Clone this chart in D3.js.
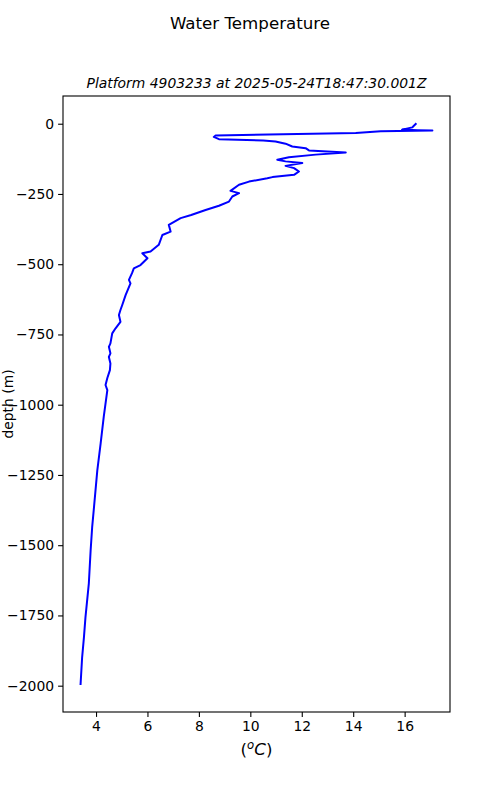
<!DOCTYPE html>
<html>
<head>
<meta charset="utf-8">
<script src="https://cdn.jsdelivr.net/npm/d3@7"></script>
<style>
  body { margin: 0; background: #fff; }
  text { font-family: "DejaVu Sans", sans-serif; fill: #000; }
</style>
</head>
<body>
<div id="chart"></div>
<script>
// profile: temperature (degC) and depth (m), in profile order
var temps = [16.43, 16.35, 16.3, 15.9, 16.5, 17.08, 15.07, 14.1, 8.65, 8.58, 8.78, 10.5,
  10.98, 11.37, 11.63, 12.15, 12.28, 13.71, 12.54, 11.5, 11.05, 11.37, 12.02, 11.37,
  11.7, 11.89, 11.7, 10.86, 10.66, 9.95, 9.56, 9.23, 9.56, 9.3, 9.17, 8.78, 8.26, 7.7,
  7.29, 6.83, 6.9, 6.58, 6.44, 6.12, 5.8, 6.0, 5.73, 5.47, 5.4, 5.28, 5.34, 5.15, 5.02,
  4.95, 4.89, 4.95, 4.76, 4.63, 4.56, 4.5, 4.56, 4.5, 4.56, 4.54, 4.44, 4.37, 4.44, 4.3,
  4.18, 4.05, 3.91, 3.85, 3.79, 3.72, 3.59, 3.53, 3.46, 3.4];
var depths = [-1, -8, -13, -21, -23, -24, -27, -33, -42, -47, -55, -60,
  -63, -71, -81, -87, -95, -102, -110, -119, -128, -134, -140, -150,
  -158, -170, -182, -190, -194, -206, -217, -239, -247, -259, -277, -292, -307, -325,
  -336, -360, -384, -396, -431, -455, -461, -479, -503, -515, -532, -556, -568, -610, -645,
  -663, -681, -705, -728, -746, -782, -794, -817, -830, -853, -877, -905, -930, -948, -1043,
  -1138, -1234, -1376, -1436, -1519, -1637, -1756, -1828, -1899, -1994];
var xTicks = [4, 6, 8, 10, 12, 14, 16];
var yTicks = [0, -250, -500, -750, -1000, -1250, -1500, -1750, -2000];

var data = temps.map(function(t, i) { return {temp: t, depth: depths[i]}; });

// set the dimensions and margins of the graph
var W = 500, H = 800;
var margin = {top: 96, right: 50, bottom: 88, left: 63},
    width = W - margin.left - margin.right,
    height = H - margin.top - margin.bottom;

// matplotlib-like 5% padding
function padded(ext) {
  var p = (ext[1] - ext[0]) * 0.05;
  return [ext[0] - p, ext[1] + p];
}

var x = d3.scaleLinear().domain(padded(d3.extent(temps))).range([0, width]);
var y = d3.scaleLinear().domain(padded(d3.extent(depths))).range([height, 0]);

var svg = d3.select("#chart").append("svg")
    .attr("width", W)
    .attr("height", H);

var g = svg.append("g")
    .attr("transform", "translate(" + margin.left + "," + margin.top + ")");

var line = d3.line()
    .x(function(d) { return x(d.temp); })
    .y(function(d) { return y(d.depth); });

g.append("path")
    .datum(data)
    .attr("fill", "none")
    .attr("stroke", "#0000ff")
    .attr("stroke-width", 2)
    .attr("stroke-linejoin", "round")
    .attr("stroke-linecap", "square")
    .attr("d", line);

var fmt = function(d) { return d3.format("d")(d).replace("-", "\u2212"); };

// x axis
var xAxis = g.append("g")
    .attr("transform", "translate(0," + height + ")")
    .call(d3.axisBottom(x).tickValues(xTicks).tickSize(4.9).tickPadding(4).tickFormat(fmt));

// y axis
var yAxis = g.append("g")
    .call(d3.axisLeft(y).tickValues(yTicks).tickSize(4.9).tickPadding(4).tickFormat(fmt));

[xAxis, yAxis].forEach(function(a) {
  a.select(".domain").remove();
  a.selectAll(".tick line").attr("stroke", "#000").attr("stroke-width", 1.1);
  a.selectAll(".tick text")
      .style("font-family", "'DejaVu Sans', sans-serif")
      .style("font-size", "13.9px")
      .attr("fill", "#000");
});

// frame
g.append("rect")
    .attr("width", width)
    .attr("height", height)
    .attr("fill", "none")
    .attr("stroke", "#000")
    .attr("stroke-width", 1.1);

// titles
svg.append("text")
    .attr("x", 250)
    .attr("y", 29)
    .attr("text-anchor", "middle")
    .style("font-size", "16.67px")
    .text("Water Temperature");

svg.append("text")
    .attr("x", margin.left + width / 2)
    .attr("y", 87.5)
    .attr("text-anchor", "middle")
    .style("font-size", "13.9px")
    .style("font-style", "italic")
    .text("Platform 4903233 at 2025-05-24T18:47:30.001Z");

// x label (°C) as mathtext-like
var xl = svg.append("text")
    .attr("x", margin.left + width / 2)
    .attr("y", 755)
    .attr("text-anchor", "middle")
    .style("font-size", "16.67px");
xl.append("tspan").text("(");
xl.append("tspan").attr("dy", -6).style("font-size", "11.7px").style("font-style", "italic").text("o");
xl.append("tspan").attr("dy", 6).style("font-style", "italic").text("C");
xl.append("tspan").text(")");

// y label
svg.append("text")
    .attr("transform", "translate(13," + (margin.top + height / 2) + ") rotate(-90)")
    .attr("text-anchor", "middle")
    .style("font-size", "13.9px")
    .text("depth (m)");
</script>
</body>
</html>
